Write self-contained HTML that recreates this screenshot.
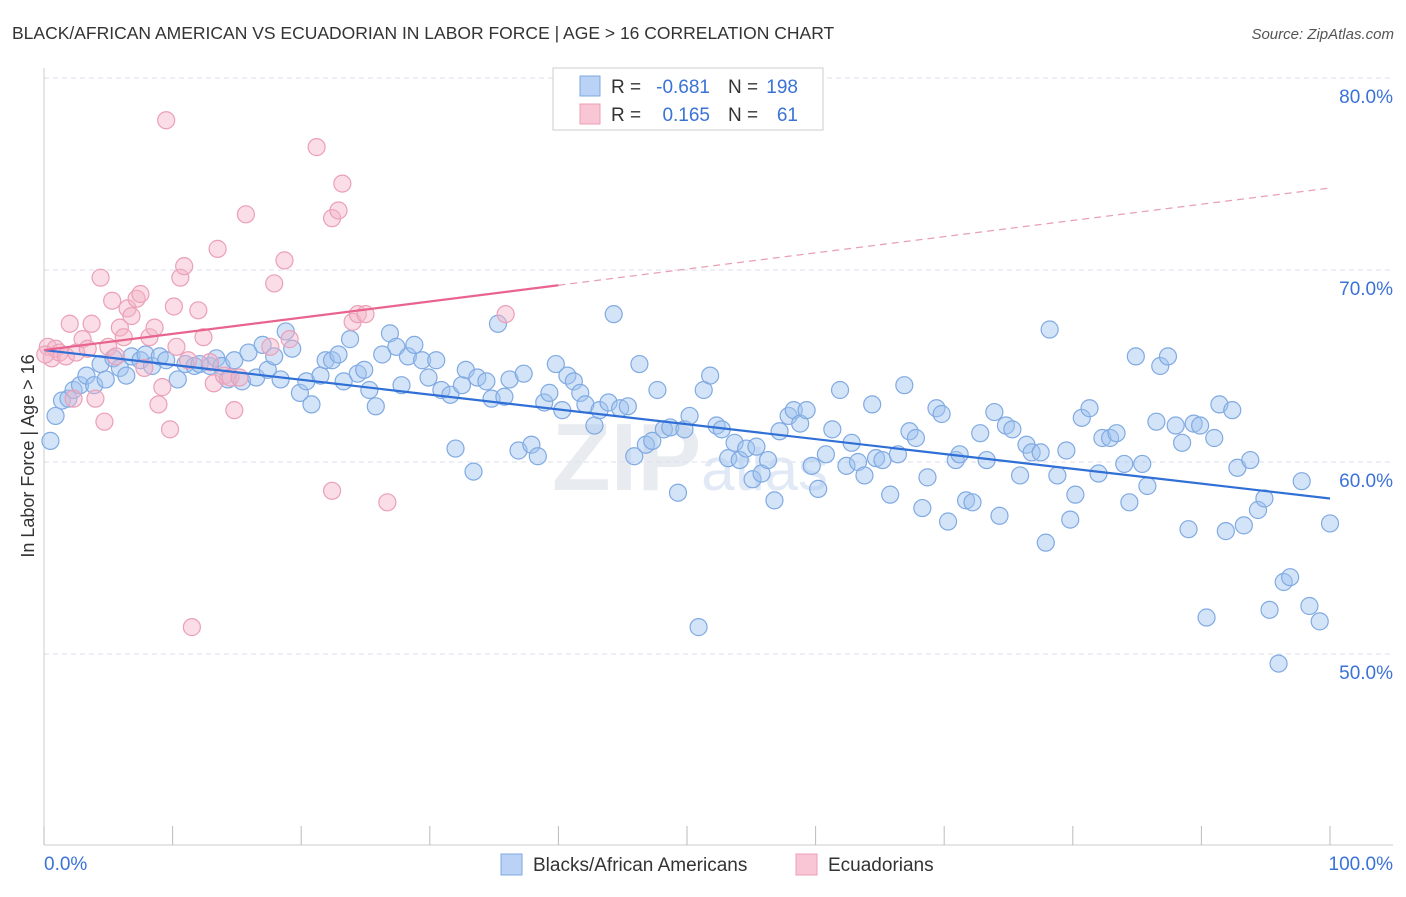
<!DOCTYPE html>
<html><head><meta charset="utf-8"><style>
body{margin:0;background:#fff;font-family:"Liberation Sans",sans-serif}
svg text{font-family:"Liberation Sans",sans-serif}
</style></head><body>
<svg id="chart" width="1406" height="892" viewBox="0 0 1406 892">
<text x="12" y="39" font-size="17.5" fill="#333">BLACK/AFRICAN AMERICAN VS ECUADORIAN IN LABOR FORCE | AGE &gt; 16 CORRELATION CHART</text>
<text x="1394" y="39" font-size="15" fill="#555" font-style="italic" text-anchor="end">Source: ZipAtlas.com</text>
<text x="690" y="490" font-size="96" fill="#e8ebf0" text-anchor="middle" font-weight="bold">ZIP<tspan font-size="60" font-weight="normal" fill="#e0e9f5">atlas</tspan></text>
<g id="grid"></g><g id="axes"></g><g id="pts"></g><g id="lines"></g>
<text transform="translate(34,456) rotate(-90)" font-size="18" fill="#333" text-anchor="middle">In Labor Force | Age &gt; 16</text>
<g>
<rect x="553" y="68" width="270" height="62" fill="#fff" stroke="#ccc"/>
<rect x="580" y="76" width="20" height="20" fill="#b9d2f5" stroke="#7fa8e0"/>
<rect x="580" y="104" width="20" height="20" fill="#f9c6d6" stroke="#eba0b8"/>
<text x="611" y="93" font-size="19" fill="#333">R =</text>
<text x="710" y="93" font-size="19" fill="#3a72d8" text-anchor="end">-0.681</text>
<text x="728" y="93" font-size="19" fill="#333">N =</text>
<text x="798" y="93" font-size="19" fill="#3a72d8" text-anchor="end">198</text>
<text x="611" y="121" font-size="19" fill="#333">R =</text>
<text x="710" y="121" font-size="19" fill="#3a72d8" text-anchor="end">0.165</text>
<text x="728" y="121" font-size="19" fill="#333">N =</text>
<text x="798" y="121" font-size="19" fill="#3a72d8" text-anchor="end">61</text>
</g>
<g>
<rect x="501" y="854" width="21" height="21" fill="#b9d2f5" stroke="#7fa8e0"/>
<text x="533" y="871" font-size="19" fill="#333">Blacks/African Americans</text>
<rect x="796" y="854" width="21" height="21" fill="#f9c6d6" stroke="#eba0b8"/>
<text x="828" y="871" font-size="19" fill="#333">Ecuadorians</text>
</g>
</svg>
<script>
const blueX=[0.5,0.9,1.4,1.9,2.3,2.8,3.3,3.9,4.4,4.8,5.4,5.9,6.4,6.8,7.5,7.9,8.4,9.0,9.5,10.4,11.0,11.7,12.1,12.9,13.4,13.8,14.3,14.8,15.4,15.9,16.5,17.0,17.4,17.9,18.4,18.8,19.3,19.9,20.4,20.8,21.5,21.9,22.4,22.9,23.3,23.8,24.4,24.9,25.3,25.8,26.3,26.9,27.4,27.8,28.3,28.8,29.4,29.9,30.5,30.9,31.6,32.0,32.5,32.8,33.4,33.7,34.4,34.8,35.3,35.8,36.2,36.9,37.3,37.9,38.4,38.9,39.3,39.8,40.3,40.7,41.2,41.7,42.1,42.8,43.2,43.9,44.3,44.8,45.4,45.9,46.3,46.8,47.3,47.7,48.2,48.7,49.3,49.8,50.2,50.9,51.3,51.8,52.3,52.7,53.2,53.7,54.1,54.6,55.1,55.4,55.8,56.3,56.8,57.2,57.9,58.3,58.8,59.3,59.7,60.2,60.8,61.3,61.9,62.4,62.8,63.3,63.8,64.4,64.7,65.2,65.8,66.4,66.9,67.3,67.8,68.3,68.7,69.4,69.8,70.3,70.9,71.2,71.7,72.2,72.8,73.3,73.9,74.3,74.8,75.3,75.9,76.4,76.8,77.5,77.9,78.2,78.8,79.5,79.8,80.2,80.7,81.3,82.0,82.3,82.9,83.4,84.0,84.4,84.9,85.4,85.8,86.5,86.8,87.4,88.0,88.5,89.0,89.4,89.9,90.4,91.0,91.4,91.9,92.4,92.8,93.3,93.8,94.4,94.9,95.3,96.0,96.4,96.9,97.8,98.4,99.2,100];
const blueY=[61.1,62.4,63.2,63.3,63.75,64.0,64.5,64.0,65.1,64.3,65.4,64.9,64.5,65.5,65.3,65.6,65.0,65.5,65.3,64.3,65.1,65.0,65.1,65.0,65.4,65.0,64.3,65.3,64.2,65.7,64.4,66.1,64.8,65.5,64.3,66.8,65.9,63.6,64.2,63.0,64.5,65.3,65.3,65.6,64.2,66.4,64.6,64.8,63.75,62.9,65.6,66.7,66.0,64.0,65.5,66.1,65.3,64.4,65.3,63.75,63.5,60.7,64.0,64.8,59.5,64.4,64.2,63.3,67.2,63.4,64.3,60.6,64.6,60.9,60.3,63.1,63.6,65.1,62.7,64.5,64.2,63.6,63.0,61.9,62.7,63.1,67.7,62.8,62.9,60.3,65.1,60.9,61.1,63.75,61.7,61.8,58.4,61.7,62.4,51.4,63.75,64.5,61.9,61.7,60.2,61.0,60.1,60.7,59.1,60.8,59.4,60.1,58.0,61.6,62.4,62.7,62.0,62.7,59.8,58.6,60.4,61.7,63.75,59.8,61.0,60.0,59.3,63.0,60.2,60.1,58.3,60.4,64.0,61.6,61.25,57.6,59.2,62.8,62.5,56.9,60.1,60.4,58.0,57.9,61.5,60.1,62.6,57.2,61.9,61.7,59.3,60.9,60.5,60.5,55.8,66.9,59.3,60.6,57.0,58.3,62.3,62.8,59.4,61.25,61.25,61.5,59.9,57.9,65.5,59.9,58.75,62.1,65.0,65.5,61.9,61.0,56.5,62.0,61.9,51.9,61.25,63.0,56.4,62.7,59.7,56.7,60.1,57.5,58.1,52.3,49.5,53.75,54.0,59.0,52.5,51.7,56.8];
const pinkX=[0.3,0.6,0.9,1.2,1.7,2.0,2.3,2.5,3.0,3.4,3.7,4.0,4.4,4.7,5.0,5.3,5.6,5.9,6.2,6.5,6.8,7.2,7.5,7.8,8.2,8.6,8.9,9.2,9.5,9.8,10.1,10.3,10.6,10.9,11.2,11.5,12.0,12.4,12.9,13.2,13.5,14.0,14.5,14.8,15.2,15.7,17.6,17.9,18.7,19.1,21.2,22.4,22.4,22.9,23.2,24.0,24.4,25.0,26.7,35.9,0.1];
const pinkY=[66.0,65.4,65.9,65.7,65.5,67.2,63.3,65.7,66.4,65.9,67.2,63.3,69.6,62.1,66.0,68.4,65.5,67.0,66.5,68.0,67.6,68.5,68.75,64.9,66.5,67.0,63.0,63.9,77.8,61.7,68.1,66.0,69.6,70.2,65.3,51.4,67.9,66.5,65.2,64.1,71.1,64.5,64.4,62.7,64.4,72.9,66.0,69.3,70.5,66.4,76.4,58.5,72.7,73.1,74.5,67.3,67.7,67.7,57.9,67.7,65.6];
const yTicks=[80,70,60,50];
const xTickVals=[0,10,20,30,40,50,60,70,80,90,100];
const blueTrend=[65.83,58.1];
const pinkTrend=[65.83,74.27];
const pinkSolidEnd=40;

const NS="http://www.w3.org/2000/svg";
const X0=44,X1=1330,Ytop=78;
const sx=v=>X0+(X1-X0)*v/100;
const sy=v=>Ytop+(80-v)*19.2;
function mk(t,a,p){const e=document.createElementNS(NS,t);for(const k in a)e.setAttribute(k,a[k]);p.appendChild(e);return e;}
const grid=document.getElementById('grid'),axes=document.getElementById('axes'),pts=document.getElementById('pts'),lines=document.getElementById('lines');
yTicks.forEach(v=>{
 const l=mk('line',{x1:X0,x2:1393,y1:sy(v),y2:sy(v),stroke:'#dde',"stroke-dasharray":'5,4'},grid);
 
 
 const t=mk('text',{x:1393,y:sy(v)+25,"font-size":19,fill:'#3a72d8',"text-anchor":'end'},grid);
 t.textContent=v.toFixed(1)+'%';
 
 
});
mk('line',{x1:X0,x2:X0,y1:68,y2:845,stroke:'#ccc'},axes);
mk('line',{x1:X0,x2:1393,y1:845,y2:845,stroke:'#ccc'},axes);
xTickVals.forEach(v=>{const l=mk('line',{x1:sx(v),x2:sx(v),y1:826,y2:845,stroke:'#bbb'},axes);
 
 });
const xl=mk('text',{x:44,y:870,"font-size":19,fill:'#3a72d8'},axes);xl.textContent=xTickVals[0].toFixed(1)+'%';


const xr=mk('text',{x:1393,y:870,"font-size":19,fill:'#3a72d8',"text-anchor":'end'},axes);xr.textContent=xTickVals[xTickVals.length-1].toFixed(1)+'%';


blueX.forEach((x,i)=>{const c=mk('circle',{cx:sx(x),cy:sy(blueY[i]),r:8.5,fill:'rgba(160,196,240,0.45)',stroke:'#80aae2',"stroke-width":1.2},pts);
 
 });
pinkX.forEach((x,i)=>{const c=mk('circle',{cx:sx(x),cy:sy(pinkY[i]),r:8.5,fill:'rgba(245,180,200,0.45)',stroke:'#eba0b8',"stroke-width":1.2},pts);
 
 });
const bl=mk('line',{x1:sx(0),y1:sy(blueTrend[0]),x2:sx(100),y2:sy(blueTrend[1]),stroke:'#2f6fd6',"stroke-width":2.2},lines);


const pm=pinkTrend[0]+(pinkTrend[1]-pinkTrend[0])*pinkSolidEnd/100;
const pl=mk('line',{x1:sx(0),y1:sy(pinkTrend[0]),x2:sx(pinkSolidEnd),y2:sy(pm),stroke:'#e8648e',"stroke-width":2.2},lines);


const pd=mk('line',{x1:sx(pinkSolidEnd),y1:sy(pm),x2:sx(100),y2:sy(pinkTrend[1]),stroke:'#e8a0b6',"stroke-width":1.2,"stroke-dasharray":'7,5'},lines);


</script>
</body></html>
